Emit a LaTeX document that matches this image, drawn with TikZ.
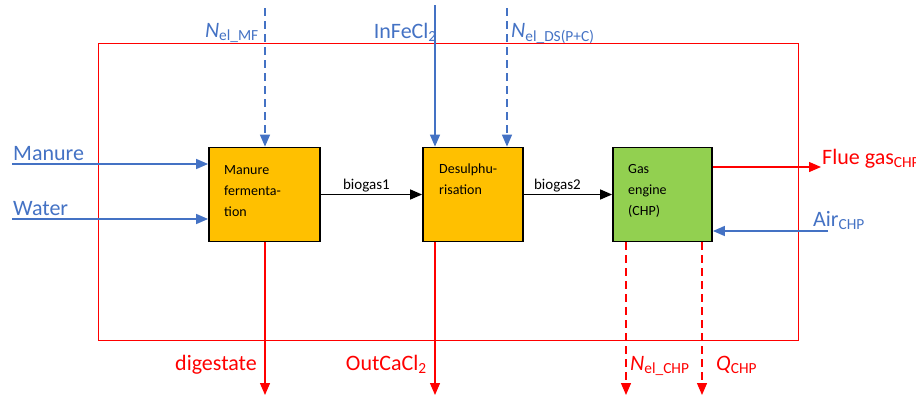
\documentclass[tikz,border=0pt]{standalone}
\usepackage{fontspec}
\setmainfont{Carlito}
\usetikzlibrary{arrows.meta,positioning}
\definecolor{flowblue}{HTML}{4472C4}
\definecolor{procorange}{HTML}{FFC000}
\definecolor{procgreen}{HTML}{92D050}
\tikzset{
  proc/.style={draw=black,line width=1.8pt,minimum height=94pt,inner sep=0pt},
  proctext/.style={anchor=north west,inner sep=0pt,align=left,font=\fontsize{14}{21}\selectfont},
  feed/.style={flowblue,line width=1.5pt,-{Triangle[length=12pt,width=10pt]}},
  prod/.style={red,line width=1.3pt,-{Triangle[length=12pt,width=10pt]}},
  gasflow/.style={black,line width=1.5pt,-{Triangle[length=12pt,width=10pt]}},
  dashline/.style={dash pattern=on 8pt off 5pt},
  lbl/.style={inner sep=0pt,font=\fontsize{22}{26}\selectfont},
}
\begin{document}
\begin{tikzpicture}[x=1pt,y=-1pt]
\useasboundingbox (0,0) rectangle (916,397);
% system boundary
\draw[red, line width=0.8pt] (98,43) rectangle (798,340);

% process units
\node[proc, fill=procorange, minimum width=111pt] (mf) at (264.5,194.5) {};
\node[proctext] at (224,165) {Manure\\fermenta-\\tion};
\node[proc, fill=procorange, minimum width=100pt] (ds) at (473,194.5) {};
\node[proctext] at (439,164) {Desulphu-\\risation};
\node[proc, fill=procgreen, minimum width=99pt] (chp) at (662.5,194.5) {};
\node[proctext] at (628,164) {Gas\\engine\\(CHP)};

% gas line
\draw[gasflow] (mf.east) -- node[above, pos=0.45, inner sep=2pt, font=\fontsize{15}{18}\selectfont] (bg1) {biogas1} (ds.west);
\draw[gasflow] (ds.east) -- node[above, pos=0.38, inner sep=2pt, font=\fontsize{15}{18}\selectfont] (bg2) {biogas2} (chp.west);

% inputs
\coordinate (manin) at (12,164);
\coordinate (watin) at (12,219);
\coordinate (nmfin) at (265,8);
\coordinate (fecin) at (435,5);
\coordinate (ndsin) at (507,8);
\coordinate (airin) at (828,231);
\draw[feed] (manin) -- (manin -| mf.west);
\draw[feed] (watin) -- (watin -| mf.west);
\draw[feed, dashline] (nmfin) -- (nmfin |- mf.north);
\draw[feed] (fecin) -- (fecin |- ds.north);
\draw[feed, dashline] (ndsin) -- (ndsin |- ds.north);
\draw[feed] (airin) -- (airin -| chp.east);
\node[lbl, flowblue, anchor=base west] (lman) at (13,160) {Manure};
\node[lbl, flowblue, anchor=base west] (lwat) at (13,215) {Water};
\node[lbl, flowblue, anchor=base east] (lnmf) at (259,37) {\textit{N}\textsubscript{el\_MF}};
\node[lbl, flowblue, anchor=base east] (lfec) at (437,38) {InFeCl\textsubscript{2}};
\node[lbl, flowblue, anchor=base west] (lnds) at (511,37) {\textit{N}\textsubscript{el\_DS(P+C)}};
\node[lbl, flowblue, anchor=base west] (lair) at (813,226) {Air\textsubscript{CHP}};

% outputs
\coordinate (flueout) at (821,167);
\coordinate (digout) at (265,395);
\coordinate (cacout) at (435,395);
\coordinate (nchpout) at (626,395);
\coordinate (qout) at (702,395);
\draw[prod] (flueout -| chp.east) -- (flueout);
\draw[prod] (digout |- mf.south) -- (digout);
\draw[prod] (cacout |- ds.south) -- (cacout);
\draw[prod, dashline] (nchpout |- chp.south) -- (nchpout);
\draw[prod, dashline] (qout |- chp.south) -- (qout);
\node[lbl, red, anchor=base west] (lflue) at (822,164) {Flue gas\textsubscript{CHP}};
\node[lbl, red, anchor=base east] (ldig) at (257,370) {digestate};
\node[lbl, red, anchor=base east] (lcac) at (427,370) {OutCaCl\textsubscript{2}};
\node[lbl, red, anchor=base west] (lnchp) at (630,370) {\textit{N}\textsubscript{el\_CHP}};
\node[lbl, red, anchor=base west] (lq) at (716,370) {\textit{Q}\textsubscript{CHP}};
\end{tikzpicture}
\end{document}
